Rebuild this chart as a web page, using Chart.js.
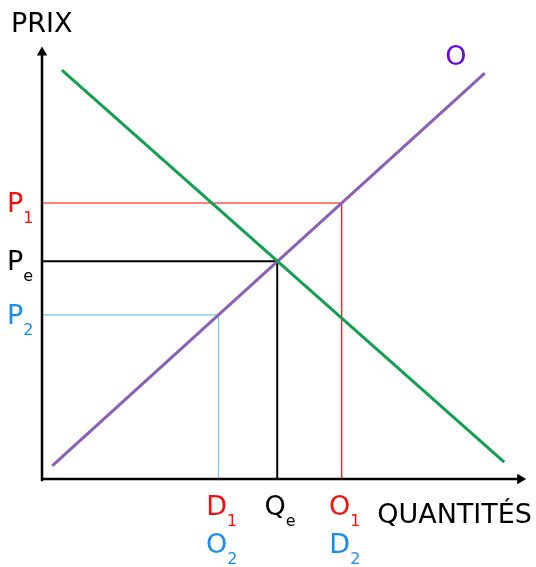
<!DOCTYPE html>
<html>
<head>
<meta charset="utf-8">
<script src="https://cdn.jsdelivr.net/npm/chart.js@4"></script>
<style>
  html, body { margin: 0; padding: 0; background: #fff; }
  canvas { display: block; }
</style>
</head>
<body>
<canvas id="chart" width="536" height="567"></canvas>
<script>
// Offre / demande — values in a 0..100 space on both axes

const demandX = [4.1, 95.3];
const demandY = [94.2, 3.9];
const supplyX = [2.1, 91.3];
const supplyY = [3.0, 93.5];

// P1, Pe, P2 and the quantities where they meet the curves
const priceLevels = [63.6, 50.2, 37.8];
const quantityLevels = [61.8, 48.5, 36.4];
const priceNames = ['P', 'P', 'P'];
const priceSubs = ['1', 'e', '2'];
const levelColors = ['#f50f0f', '#000000', '#1a8cf0'];
const guideColors = ['#ff0000', '#000000', '#70c6f0'];

// labels under the x axis (row 1 / row 2)
const topNames = ['O', 'Q', 'D'];
const topSubs = ['1', 'e', '1'];
const topColors = ['#f50f0f', '#000000', '#f50f0f'];
const bottomNames = ['D', '', 'O'];
const bottomSubs = ['2', '', '2'];
const bottomColor = '#1a8cf0';

const FONT = '"DejaVu Sans", sans-serif';

function guide(i) {
  return {
    data: [
      { x: 0, y: priceLevels[i] },
      { x: quantityLevels[i], y: priceLevels[i] },
      { x: quantityLevels[i], y: 0 }
    ],
    borderColor: guideColors[i],
    borderWidth: i === 1 ? 2 : 1.2,
    showLine: true, pointRadius: 0, clip: false, order: 5
  };
}

function drawLabel(ctx, main, sub, x, baseline, color, centerMain) {
  ctx.fillStyle = color;
  ctx.font = '27px ' + FONT;
  ctx.textBaseline = 'alphabetic';
  ctx.textAlign = 'left';
  const w = ctx.measureText(main).width;
  const left = centerMain ? x - w / 2 : x;
  ctx.fillText(main, left, baseline);
  ctx.font = '16px ' + FONT;
  ctx.fillText(sub, left + w, baseline + 11);
}

const labels = {
  id: 'labels',
  afterDatasetsDraw(chart) {
    const { ctx, scales: { x, y } } = chart;
    ctx.save();
    ctx.fillStyle = '#000';
    ctx.font = '27px ' + FONT;
    ctx.textAlign = 'left';
    ctx.fillText('PRIX', 11, 32);
    ctx.textAlign = 'right';
    ctx.fillText('QUANTITÉS', 532, 523);

    const x0 = x.getPixelForValue(0);
    const y0 = y.getPixelForValue(0);
    priceLevels.forEach((p, i) => {
      drawLabel(ctx, priceNames[i], priceSubs[i], x0 - 35, y.getPixelForValue(p) + 9, levelColors[i], false);
    });
    quantityLevels.forEach((q, i) => {
      const px = x.getPixelForValue(q) - 2;
      drawLabel(ctx, topNames[i], topSubs[i], px, y0 + 36, topColors[i], true);
      if (bottomNames[i]) {
        drawLabel(ctx, bottomNames[i], bottomSubs[i], px, y0 + 74, bottomColor, true);
      }
    });

    // "O" next to the supply curve
    ctx.fillStyle = '#6a0ad6';
    ctx.font = '27px ' + FONT;
    ctx.textAlign = 'center';
    ctx.fillText('O', x.getPixelForValue(supplyX[1]) - 29, y.getPixelForValue(supplyY[1]) - 8);
    ctx.restore();
  }
};

new Chart(document.getElementById('chart'), {
  type: 'scatter',
  data: {
    datasets: [
      {
        data: demandX.map((v, i) => ({ x: v, y: demandY[i] })),
        borderColor: '#12a050', borderWidth: 3,
        showLine: true, pointRadius: 0, clip: false, order: 1
      },
      {
        data: supplyX.map((v, i) => ({ x: v, y: supplyY[i] })),
        borderColor: '#8a60b4', borderWidth: 3,
        showLine: true, pointRadius: 0, clip: false, order: 1
      },
      guide(0), guide(1), guide(2),
      // axes
      {
        data: [{ x: 0, y: 0 }, { x: 98.6, y: 0 }],
        borderColor: '#000', borderWidth: 2.5,
        showLine: true, pointRadius: [0, 6], pointStyle: 'triangle', rotation: 90,
        backgroundColor: '#000', pointBorderWidth: 0, clip: false, order: 0
      },
      {
        data: [{ x: 0, y: -0.5 }, { x: 0, y: 98.3 }],
        borderColor: '#000', borderWidth: 2.5,
        showLine: true, pointRadius: [0, 6], pointStyle: 'triangle', rotation: 0,
        backgroundColor: '#000', pointBorderWidth: 0, clip: false, order: 0
      }
    ]
  },
  options: {
    responsive: false,
    animation: false,
    layout: { padding: { left: 42, top: 45, right: 9, bottom: 88 } },
    plugins: { legend: { display: false }, tooltip: { enabled: false } },
    scales: {
      x: { type: 'linear', min: 0, max: 100, display: false },
      y: { type: 'linear', min: 0, max: 100, display: false }
    }
  },
  plugins: [labels]
});
</script>
</body>
</html>
